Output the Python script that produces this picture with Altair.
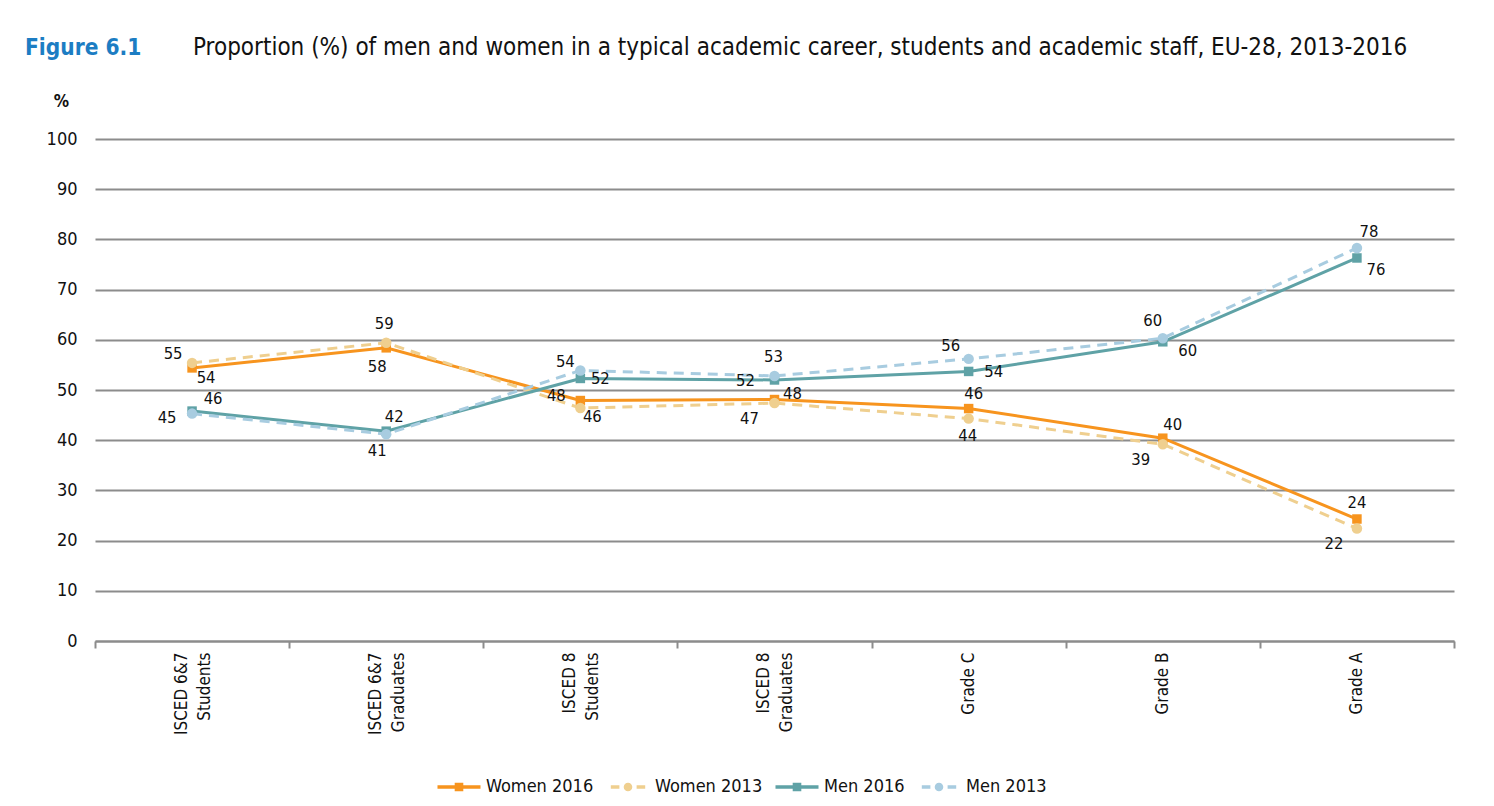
import altair as alt
import pandas as pd

# ---------------- data ----------------
categories = ["ISCED 6&7|Students", "ISCED 6&7|Graduates", "ISCED 8|Students",
              "ISCED 8|Graduates", "Grade C", "Grade B", "Grade A"]
series_names = ["Women 2016", "Women 2013", "Men 2016", "Men 2013"]
women_2016 = [54.4, 58.4, 47.9, 48.1, 46.3, 40.4, 24.3]
women_2013 = [55.4, 59.4, 46.4, 47.4, 44.3, 39.2, 22.4]
men_2016 = [45.8, 41.8, 52.3, 52.0, 53.7, 59.6, 76.3]
men_2013 = [45.3, 41.2, 53.9, 52.8, 56.2, 60.3, 78.3]

figure_label = "Figure 6.1"
title_text = ("Proportion (%) of men and women in a typical academic career, "
              "students and academic staff, EU-28, 2013-2016")

# ---------------- style ----------------
FONT = "Liberation Sans Narrow, DejaVu Sans Condensed, Open Sans, sans-serif"
colors = ["#F7941E", "#EFCF8F", "#5FA2A6", "#A8CCE0"]
W, H = 1359, 502
PX_X = W / 7.0
PX_Y = H / 100.0

# data-label offsets in pixels (dx, dy) relative to each marker
label_offsets = {
    "Women 2016": [(14, 10), (-9, 19), (-24, -5), (18, -6), (5, -15), (10, -13), (0, -16)],
    "Women 2013": [(-19, -9), (-2, -19), (12, 9), (-25, 16), (-1, 17), (-22, 16), (-23, 15)],
    "Men 2016": [(21, -12), (8, -14), (20, 1), (-29, 1), (25, 1), (25, 9), (19, 12)],
    "Men 2013": [(-25, 4), (-9, 17), (-15, -8), (-1, -19), (-18, -13), (-10, -17), (12, -16)],
}

values_by_series = dict(zip(series_names, [women_2016, women_2013, men_2016, men_2013]))

rows = []
for s in series_names:
    for i, (cat, v, (dx, dy)) in enumerate(zip(categories, values_by_series[s], label_offsets[s])):
        rows.append(dict(series=s, idx=i, cat=cat, value=v,
                         lx=i + dx / PX_X, ly=v - dy / PX_Y))
df = pd.DataFrame(rows)

names_js = "[" + ",".join("'" + c + "'" for c in categories) + "]"
label_expr = f"datum.value % 1 == 0 ? split({names_js}[datum.value], '|') : ''"

x_scale = alt.Scale(domain=[-0.5, 6.5], nice=False, zero=False)
y_scale = alt.Scale(domain=[0, 100], nice=False)

x_axis = alt.Axis(
    values=[k / 2 for k in range(-1, 14)],
    labelExpr=label_expr,
    tickOpacity={"condition": {"test": "datum.value % 1 == 0", "value": 0}, "value": 1},
    labelOffset={"condition": {"test": "datum.value < 3.5", "value": -11}, "value": 0},
    grid=False, title=None, domainColor="#8C8C8C", domainWidth=2,
    tickColor="#8C8C8C", tickWidth=2, tickSize=7,
    labelAngle=270, labelAlign="right", labelBaseline="middle",
    labelFontSize=17, labelColor="#111111", labelPadding=4,
    labelLineHeight=23, labelOverlap=False, labelFont=FONT,
)
y_axis = alt.Axis(
    values=list(range(0, 101, 10)), title="%", titleAngle=0, titleX=-34, titleY=-38,
    titleFontWeight="bold", titleAlign="center", titleBaseline="middle",
    titleFontSize=17, titleFont=FONT, titleColor="#111111",
    domain=False, ticks=False, tickSize=0, labelPadding=18, labelFontSize=18,
    labelFont=FONT, labelColor="#111111",
    gridColor="#8C8C8C", gridWidth=2,
)

base = alt.Chart(df)
x_enc = alt.X("idx:Q", scale=x_scale, axis=x_axis)
y_enc = alt.Y("value:Q", scale=y_scale, axis=y_axis)

layers = []
for s, c in zip(series_names, colors):
    sub = base.transform_filter(alt.datum.series == s)
    if s.endswith("2016"):
        line = sub.mark_line(color=c, strokeWidth=3)
        pts = sub.mark_square(color=c, size=90, opacity=1)
    else:
        line = sub.mark_line(color=c, strokeWidth=3, strokeDash=[10, 7])
        pts = sub.mark_circle(color=c, size=110, opacity=1)
    layers.append(line.encode(x=x_enc, y=y_enc))
    layers.append(pts.encode(x="idx:Q", y="value:Q"))

labels = base.mark_text(fontSize=16.5, color="#111111", font=FONT).encode(
    x="lx:Q", y="ly:Q", text=alt.Text("value:Q", format=".0f"))
layers.append(labels)

# legend symbols: line + marker (paths in unit box)
path_solid = "M-1,-0.08H1V0.08H-1Z M-0.2,-0.2H0.2V0.2H-0.2Z"
path_dash = ("M-0.8,-0.08H-0.4V0.08H-0.8Z M0.4,-0.08H0.8V0.08H0.4Z "
             "M-0.2,0A0.2,0.2 0 1,0 0.2,0A0.2,0.2 0 1,0 -0.2,0Z")
legend = alt.Legend(
    title=None, orient="none", legendX=342, legendY=626, direction="horizontal",
    columns=4, symbolSize=1850, symbolOpacity=1, symbolStrokeWidth=0,
    labelFontSize=18, labelFont=FONT, labelColor="#111111", labelOffset=5,
    columnPadding=12,
)
leg_df = pd.DataFrame({"series": series_names})
legend_layer = alt.Chart(leg_df).mark_point(filled=True, opacity=0).encode(
    x=alt.value(0), y=alt.value(0),
    color=alt.Color("series:N", scale=alt.Scale(domain=series_names, range=colors), legend=legend),
    shape=alt.Shape("series:N", scale=alt.Scale(domain=series_names,
                    range=[path_solid, path_dash, path_solid, path_dash]), legend=legend),
)
layers.append(legend_layer)

fig_df = pd.DataFrame({"t": [figure_label]})
fig_text = alt.Chart(fig_df).mark_text(
    align="left", baseline="middle", fontSize=22.5, color="#1C7DC3", fontWeight="bold", font=FONT
).encode(x=alt.value(-70), y=alt.value(-91), text="t:N")
ttl_df = pd.DataFrame({"t": [title_text]})
ttl_text = alt.Chart(ttl_df).mark_text(
    align="left", baseline="middle", fontSize=24, color="#111111", font=FONT
).encode(x=alt.value(98), y=alt.value(-91), text="t:N")
layers += [fig_text, ttl_text]

chart = alt.layer(*layers).properties(
    width=W, height=H,
    padding={"left": 87, "top": 131, "right": 24, "bottom": 155},
    autosize=alt.AutoSizeParams(type="none"),
).configure(font=FONT).configure_view(stroke=None)

chart.save("out.html", embed_options={"renderer": "svg", "actions": False})
